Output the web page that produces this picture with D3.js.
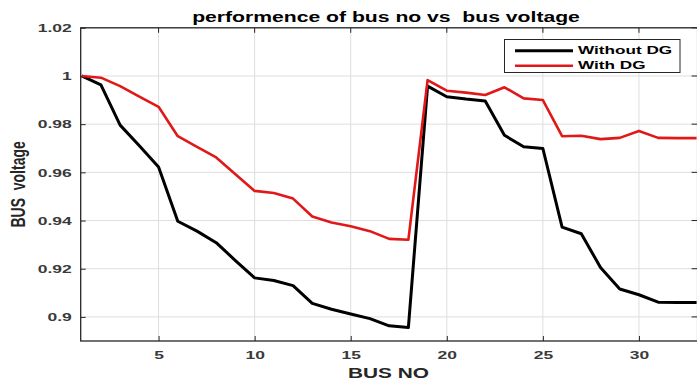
<!DOCTYPE html>
<html>
<head>
<meta charset="utf-8">
<script src="https://cdn.jsdelivr.net/npm/d3@7"></script>
<style>
  html, body { margin: 0; padding: 0; background: #fff; }
  svg { display: block; font-family: "Liberation Sans", Arial, sans-serif; }
</style>
</head>
<body>
<svg id="chart" width="697" height="383"></svg>
<script>
// Bus numbers of the 33-bus feeder
const busNo = d3.range(1, 34);

// Bus voltage (p.u.) without distributed generation
const withoutDG = [
  1.0000, 0.9963, 0.9796, 0.9710, 0.9622, 0.9397, 0.9356, 0.9308, 0.9234, 0.9162,
  0.9151, 0.9130, 0.9056, 0.9032, 0.9012, 0.8993, 0.8963, 0.8956, 0.9958, 0.9914,
  0.9904, 0.9896, 0.9754, 0.9706, 0.9699, 0.9373, 0.9345, 0.9205, 0.9116, 0.9092,
  0.9061, 0.9060, 0.9060
];

// Bus voltage (p.u.) with distributed generation
const withDG = [
  1.0000, 0.9993, 0.9958, 0.9914, 0.9872, 0.9750, 0.9706, 0.9662, 0.9592, 0.9523,
  0.9514, 0.9491, 0.9417, 0.9392, 0.9376, 0.9356, 0.9324, 0.9320, 0.9983, 0.9939,
  0.9931, 0.9921, 0.9953, 0.9907, 0.9900, 0.9750, 0.9752, 0.9738, 0.9743, 0.9772,
  0.9743, 0.9742, 0.9742
];

const xTicks = [5, 10, 15, 20, 25, 30];
const yTicks = [0.90, 0.92, 0.94, 0.96, 0.98, 1.00, 1.02];
const yTickLabels = ["0.9", "0.92", "0.94", "0.96", "0.98", "1", "1.02"];

const seriesNames = ["Without DG", "With DG"];
const seriesColors = ["#000000", "#e01818"];

const svg = d3.select("#chart");
const plotL = 80.7, plotR = 696.6, plotT = 27.8, plotB = 341;

// widen glyphs horizontally about each text's own x anchor
function widen(sel, sx) {
  sel.each(function () {
    const t = d3.select(this);
    const tx = +t.attr("x") || 0;
    t.attr("transform", `translate(${tx},0) scale(${sx},1) translate(${-tx},0)`);
  });
}

const x = d3.scaleLinear().domain([1, 33]).range([plotL + 1, plotR]);
const y = d3.scaleLinear().domain([0.89, 1.02]).range([plotB, plotT]);

// grid
const grid = svg.append("g");
grid.selectAll("line.vx").data(xTicks).join("line")
  .attr("x1", d => x(d)).attr("x2", d => x(d))
  .attr("y1", plotT).attr("y2", plotB)
  .attr("stroke", "#dedede").attr("stroke-width", 1);
grid.selectAll("line.hy").data(yTicks).join("line")
  .attr("y1", d => y(d)).attr("y2", d => y(d))
  .attr("x1", plotL).attr("x2", plotR + 2)
  .attr("stroke", "#dedede").attr("stroke-width", 1);

// axes
const xAxis = d3.axisBottom(x).tickValues(xTicks).tickSizeInner(-5).tickSizeOuter(0).tickPadding(10);
const yAxis = d3.axisLeft(y).tickValues(yTicks).tickFormat((d, i) => yTickLabels[i])
  .tickSizeInner(-5).tickSizeOuter(0).tickPadding(9);

const gx = svg.append("g").attr("transform", `translate(0,${plotB})`).call(xAxis);
const gy = svg.append("g").attr("transform", `translate(${plotL},0)`).call(yAxis);
[gx, gy].forEach(g => {
  g.select(".domain").remove();
  g.selectAll(".tick line").attr("stroke", "#262626").attr("stroke-width", 1);
  g.selectAll(".tick text")
    .attr("fill", "#3a3a3a")
    .style("font-size", "11.8px")
    .style("font-weight", "bold");
  widen(g.selectAll(".tick text"), 1.48);
});

// top and right ticks
svg.append("g").selectAll("line").data(xTicks).join("line")
  .attr("x1", d => x(d)).attr("x2", d => x(d))
  .attr("y1", plotT).attr("y2", plotT + 5)
  .attr("stroke", "#262626");
svg.append("g").selectAll("line").data(yTicks).join("line")
  .attr("y1", d => y(d)).attr("y2", d => y(d))
  .attr("x1", plotR - 5).attr("x2", plotR + 1)
  .attr("stroke", "#262626");

// box
svg.append("rect")
  .attr("x", plotL).attr("y", plotT)
  .attr("width", plotR + 1 - plotL).attr("height", plotB - plotT)
  .attr("fill", "none").attr("stroke", "#262626").attr("stroke-width", 1.3);

// lines
const line = d3.line().x((d, i) => x(busNo[i])).y(d => y(d));
const plot = svg.append("g");
plot.append("path").datum(withoutDG)
  .attr("d", line).attr("fill", "none")
  .attr("stroke", seriesColors[0]).attr("stroke-width", 3)
  .attr("stroke-linejoin", "round");
plot.append("path").datum(withDG)
  .attr("d", line).attr("fill", "none")
  .attr("stroke", seriesColors[1]).attr("stroke-width", 2.6)
  .attr("stroke-linejoin", "round");

// title
const title = svg.append("text")
  .attr("x", 386).attr("y", 22.5)
  .attr("text-anchor", "middle")
  .style("font-size", "14.5px").style("font-weight", "bold")
  .attr("fill", "#000")
  .attr("xml:space", "preserve")
  .text("performence of bus no vs  bus voltage");
widen(title, 388 / title.node().getComputedTextLength());

// axis titles
const xTitle = svg.append("text")
  .attr("x", 388.5).attr("y", 378.3)
  .attr("text-anchor", "middle")
  .style("font-size", "14.5px").style("font-weight", "bold")
  .attr("fill", "#262626")
  .text("BUS NO");
widen(xTitle, 81 / xTitle.node().getComputedTextLength());

svg.append("text")
  .attr("transform", `translate(25,${(plotT + plotB) / 2}) scale(1.45,1) rotate(-90)`)
  .attr("text-anchor", "middle")
  .style("font-size", "14px").style("font-weight", "bold")
  .attr("fill", "#262626")
  .attr("xml:space", "preserve")
  .text("BUS  voltage");

// legend
const lg = svg.append("g");
lg.append("rect")
  .attr("x", 504.5).attr("y", 39.5).attr("width", 175.5).attr("height", 33)
  .attr("fill", "#fff").attr("stroke", "#262626").attr("stroke-width", 1);
seriesNames.forEach((name, i) => {
  const yy = 50.7 + i * 15;
  lg.append("line")
    .attr("x1", 515).attr("x2", 573).attr("y1", yy).attr("y2", yy)
    .attr("stroke", seriesColors[i]).attr("stroke-width", i === 0 ? 3 : 2.6);
  const t = lg.append("text")
    .attr("x", 578).attr("y", yy + 3.6)
    .style("font-size", "11.6px").style("font-weight", "bold")
    .attr("fill", "#000")
    .text(name);
  widen(t, 1.48);
});
</script>
</body>
</html>
